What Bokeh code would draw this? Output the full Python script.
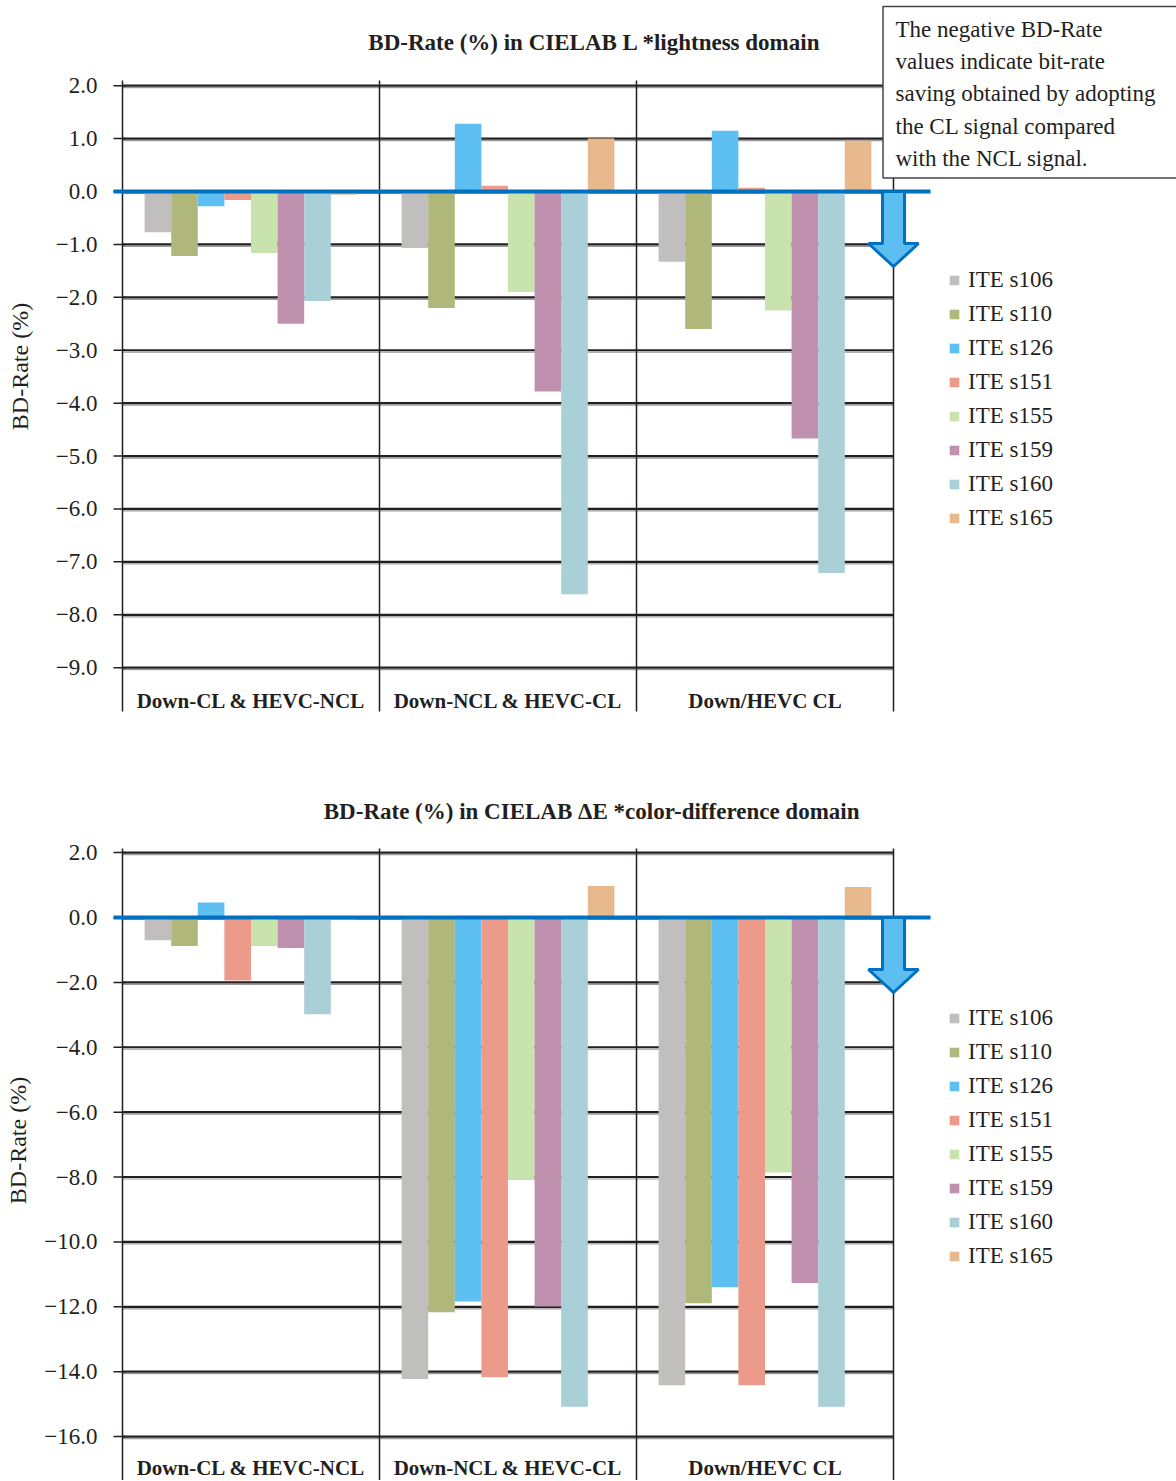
from bokeh.plotting import figure
from bokeh.models import (ColumnDataSource, Legend, LegendItem, Range1d,
                          FixedTicker, CustomJSTickFormatter)
from bokeh.layouts import column
from bokeh.embed import file_html
from bokeh.resources import INLINE
from bokeh.core.properties import value
from bokeh.transform import dodge

# ---------------- data ----------------
GROUPS = ["Down-CL & HEVC-NCL", "Down-NCL & HEVC-CL", "Down/HEVC CL"]
SERIES = ["ITE s106", "ITE s110", "ITE s126", "ITE s151",
          "ITE s155", "ITE s159", "ITE s160", "ITE s165"]
COLORS = ["#C0BFBD", "#AFB77B", "#5EBFF2", "#EC9B8B",
          "#C9E3AE", "#BF91AE", "#A9D0D6", "#E8B98C"]

# BD-Rate (%) in CIELAB L* lightness domain (one value per group)
L_S106 = [-0.77, -1.07, -1.33]
L_S110 = [-1.22, -2.20, -2.60]
L_S126 = [-0.28, 1.28, 1.15]
L_S151 = [-0.16, 0.11, 0.07]
L_S155 = [-1.16, -1.90, -2.25]
L_S159 = [-2.50, -3.78, -4.67]
L_S160 = [-2.07, -7.61, -7.21]
L_S165 = [-0.06, 1.00, 0.96]

# BD-Rate (%) in CIELAB dE* color-difference domain (one value per group)
E_S106 = [-0.70, -14.23, -14.42]
E_S110 = [-0.88, -12.17, -11.89]
E_S126 = [0.46, -11.84, -11.40]
E_S151 = [-1.94, -14.17, -14.42]
E_S155 = [-0.88, -8.07, -7.86]
E_S159 = [-0.94, -11.99, -11.27]
E_S160 = [-2.98, -15.08, -15.08]
E_S165 = [-0.08, 0.97, 0.94]

L_TICKS = [2, 1, 0, -1, -2, -3, -4, -5, -6, -7, -8, -9]
E_TICKS = [2, 0, -2, -4, -6, -8, -10, -12, -14, -16]

TITLE_L = "BD-Rate (%) in CIELAB L *lightness domain"
TITLE_E = "BD-Rate (%) in CIELAB  \u0394E *color-difference domain"
Y_LABEL = "BD-Rate (%)"
NOTE = ["The negative BD-Rate", "values indicate bit-rate",
        "saving obtained by adopting", "the CL signal compared",
        "with the NCL signal."]

# ---------------- styling / geometry ----------------
SERIF = "Liberation Serif"
INK = "#231F20"
GPX = 257.0     # pixels per category group
AX_X = 122      # pixel x of x = 0
FRAME_L = 112   # pixel x of plot frame's left edge
FIG_W = 1176
BAR_PX = 26.6
LEG_FONT = 23
LEG_ITEM_H = 26
LEG_SPACING = 8


def sx(px):
    return (px - AX_X) / GPX


def chart(title, vals, ticks, ppu, zero_px, fig_top, frame_top, frame_bottom,
          title_px, grid_top_px, frame_end_px, cat_px, legend_first_px, note=False,
          label_standoff=16):
    def sy(py):
        return (zero_px - py) / ppu

    p = figure(width=FIG_W, height=frame_bottom - fig_top, output_backend="svg",
               toolbar_location=None, tools="", x_axis_location=None,
               x_range=Range1d(sx(FRAME_L), sx(FIG_W)),
               y_range=Range1d(sy(frame_bottom), sy(frame_top)),
               min_border_left=FRAME_L, min_border_right=0,
               min_border_top=frame_top - fig_top, min_border_bottom=0)
    p.grid.visible = False
    p.outline_line_color = None
    p.background_fill_color = "white"

    ax = p.yaxis[0]
    ax.ticker = FixedTicker(ticks=ticks)
    ax.formatter = CustomJSTickFormatter(
        code="return (tick < 0 ? '\u2212' : '') + Math.abs(tick).toFixed(1);")
    ax.axis_line_color = None
    ax.major_tick_line_color = None
    ax.minor_tick_line_color = None
    ax.major_tick_out = 0
    ax.major_tick_in = 0
    ax.minor_tick_out = 0
    ax.minor_tick_in = 0
    ax.major_label_standoff = 15
    ax.major_label_text_font = SERIF
    ax.major_label_text_font_size = "23px"
    ax.major_label_text_color = INK
    ax.axis_label = Y_LABEL
    ax.axis_label_text_font = SERIF
    ax.axis_label_text_font_style = "normal"
    ax.axis_label_text_font_size = "24px"
    ax.axis_label_text_color = INK
    ax.axis_label_standoff = label_standoff

    n_grp = len(GROUPS)
    # horizontal grid lines (with light shadow)
    p.segment(x0=0, x1=n_grp, y0=[t - 2.0 / ppu for t in ticks],
              y1=[t - 2.0 / ppu for t in ticks], line_color="#9A9A9A", line_width=1.2)
    p.segment(x0=0, x1=n_grp, y0=ticks, y1=ticks, line_color=INK, line_width=2.2)
    # tick marks
    p.segment(x0=sx(113), x1=sx(125), y0=ticks, y1=ticks, line_color=INK, line_width=1.5)
    # category frame lines
    xs = list(range(n_grp + 1))
    p.segment(x0=xs, x1=xs, y0=sy(grid_top_px), y1=sy(frame_end_px),
              line_color=INK, line_width=1.5)

    # bars
    src = ColumnDataSource(dict(gx=[i + 0.5 for i in range(n_grp)],
                                **{s: v for s, v in zip(SERIES, vals)}))
    w = BAR_PX / GPX
    n = len(SERIES)
    items = []
    for i, (s, c) in enumerate(zip(SERIES, COLORS)):
        r = p.vbar(x=dodge("gx", (i - (n - 1) / 2) * w, range=p.x_range),
                   top=s, bottom=0, width=w, source=src,
                   fill_color=c, line_color=None)
        items.append(LegendItem(label=s, renderers=[r]))

    # zero line
    p.segment(x0=sx(113), x1=sx(930), y0=0, y1=0, line_color="#0070C0", line_width=4)

    # arrow
    cx = 893
    pts = [(-11, 0), (11, 0), (11, 52), (25, 52), (0, 75), (-25, 52), (-11, 52)]
    p.patch(x=[sx(cx + dx) for dx, dy in pts], y=[sy(zero_px + dy) for dx, dy in pts],
            fill_color="#5DBEF2", line_color="#0070C0", line_width=3)

    if note:
        p.quad(left=sx(882.5), right=sx(1200), top=sy(6), bottom=sy(177.5),
               fill_color="white", line_color="#444444", line_width=1.5)
        p.text(x=sx(895), y=[sy(29 + 32.2 * k) for k in range(len(NOTE))], text=NOTE,
               text_align="left", text_baseline="alphabetic",
               text_font=value(SERIF), text_font_size="23px", text_color=INK)

    # title
    p.text(x=[sx(594)], y=[sy(title_px)], text=[title], text_align="center",
           text_baseline="middle", text_font=value(SERIF), text_font_style="bold",
           text_font_size="23px", text_color=INK)
    # categories
    p.text(x=[i + 0.5 for i in range(n_grp)], y=sy(cat_px), text=GROUPS,
           text_align="center", text_baseline="middle", text_font=value(SERIF),
           text_font_style="bold", text_font_size="21px", text_color=INK)

    leg_h = n * LEG_ITEM_H + (n - 1) * LEG_SPACING
    leg_top = legend_first_px - LEG_ITEM_H / 2
    leg = Legend(items=items, location=(948 - FRAME_L, frame_bottom - (leg_top + leg_h)))
    leg.border_line_color = None
    leg.background_fill_alpha = 0
    leg.glyph_width = 12
    leg.glyph_height = 12
    leg.label_standoff = 8
    leg.label_height = 22
    leg.spacing = LEG_SPACING
    leg.padding = 0
    leg.margin = 0
    leg.label_text_font = SERIF
    leg.label_text_font_size = "%dpx" % LEG_FONT
    leg.label_text_color = INK
    p.add_layout(leg)
    return p


p1 = chart(TITLE_L, [L_S106, L_S110, L_S126, L_S151, L_S155, L_S159, L_S160, L_S165],
           L_TICKS, ppu=52.91, zero_px=191.0, fig_top=0, frame_top=0, frame_bottom=732,
           title_px=42, grid_top_px=80, frame_end_px=711, cat_px=700,
           legend_first_px=280, note=True, label_standoff=20)
p2 = chart(TITLE_E, [E_S106, E_S110, E_S126, E_S151, E_S155, E_S159, E_S160, E_S165],
           E_TICKS, ppu=32.44, zero_px=917.0, fig_top=732, frame_top=800, frame_bottom=1480,
           title_px=811, grid_top_px=848, frame_end_px=1490, cat_px=1467,
           legend_first_px=1018, note=False, label_standoff=10)

layout = column(p1, p2)
open("out.html", "w").write(file_html(layout, INLINE))
